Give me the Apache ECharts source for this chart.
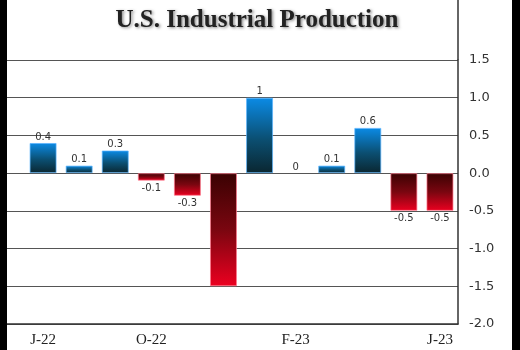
<!DOCTYPE html>
<html><head><meta charset="utf-8">
<script src="https://cdn.jsdelivr.net/npm/echarts@6/dist/echarts.min.js"></script>
<style>html,body{margin:0;padding:0;background:#fff}#c{width:520px;height:350px}</style>
</head><body><div id="c"></div>
<script>
var months = ['J-22','A-22','S-22','O-22','N-22','D-22','J-23','F-23','M-23','A-23','M-23','J-23'];
var shownLabels = {0:'J-22',3:'O-22',7:'F-23',11:'J-23'};
var values = [0.4, 0.1, 0.3, -0.1, -0.3, -1.5, 1, 0, 0.1, 0.6, -0.5, -0.5];
var hiddenValueLabels = [5];
var yTicks = [-2.0,-1.5,-1.0,-0.5,0.0,0.5,1.0,1.5];

function grad(v){
  if (v >= 0) return new echarts.graphic.LinearGradient(0,0,0,1,[{offset:0,color:'#0b8be6'},{offset:0.55,color:'#0b4f72'},{offset:1,color:'#0a2630'}]);
  return new echarts.graphic.LinearGradient(0,0,0,1,[{offset:0,color:'#3a0202'},{offset:0.5,color:'#7a0610'},{offset:1,color:'#ec0020'}]);
}
var data = values.map(function(v,i){
  return {value:[i,v], itemStyle:{color:grad(v), borderColor: v>=0?'rgba(90,180,255,0.7)':'rgba(255,120,140,0.7)', borderWidth: v===0?0:1},
    label:{show: hiddenValueLabels.indexOf(i)<0, position: v>=0?'top':'bottom', distance: v>=0?1:3}};
});

var chart = echarts.init(document.getElementById('c'), null, {renderer:'canvas'});
chart.setOption({
  backgroundColor:'#fff',
  animation:false,
  title:{text:'U.S. Industrial Production', left:252, textAlign:'center', top:3,
    textStyle:{fontFamily:'Liberation Serif', fontWeight:'bold', fontSize:25, color:'#222',
      textShadowColor:'rgba(0,0,0,0.45)', textShadowBlur:3, textShadowOffsetX:1.5, textShadowOffsetY:1.5}},
  grid:{left:7, right:62, top:60, bottom:26},
  xAxis:{type:'value', min:-1, max:11.5, interval:1,
    axisLine:{show:true, onZero:false, lineStyle:{color:'#333', width:1.5}}, axisTick:{show:false}, splitLine:{show:false},
    axisLabel:{margin:9, fontFamily:'Liberation Serif', fontSize:15, color:'#222', showMaxLabel:false,
      formatter:function(v){ return shownLabels[v] || ''; }}},
  yAxis:{type:'value', position:'right', min:-2, max:1.5, interval:0.5,
    axisLine:{show:true, onZero:false, lineStyle:{color:'#333', width:1.5}}, axisTick:{show:false},
    splitLine:{show:true, lineStyle:{color:'#555', width:1}},
    axisLabel:{margin:11, fontFamily:'DejaVu Sans', fontSize:13, color:'#333',
      formatter:function(v){ return v.toFixed(1); }}},
  series:[{type:'bar', barWidth:27, data:data,
    label:{show:true, fontFamily:'DejaVu Sans', fontSize:10, color:'#333',
      formatter:function(p){ return String(p.value[1]); }}}],
  graphic:[
    {type:'line', shape:{x1:458, y1:0, x2:458, y2:60}, style:{stroke:'#333', lineWidth:1.5}, z:100},
    {type:'rect', shape:{x:0, y:0, width:7, height:350}, style:{fill:'#000'}, z:100},
    {type:'rect', shape:{x:512, y:0, width:8, height:350}, style:{fill:'#000'}, z:100}
  ]
});
</script></body></html>
